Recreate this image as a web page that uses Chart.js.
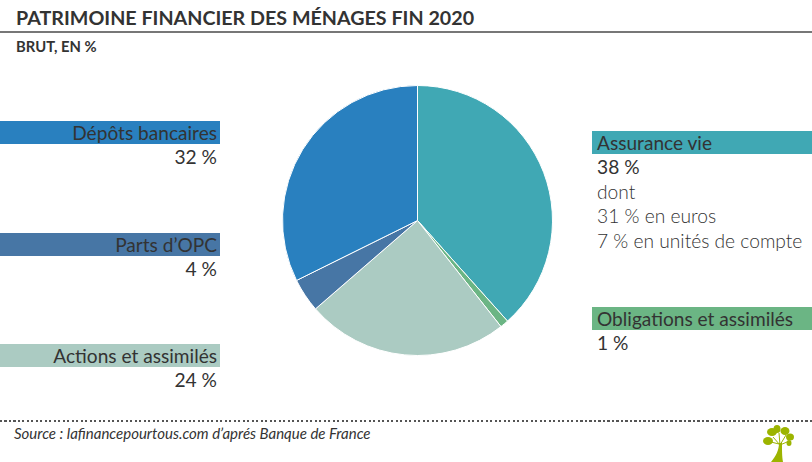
<!DOCTYPE html>
<html lang="fr">
<head>
<meta charset="utf-8">
<title>Patrimoine financier des ménages fin 2020</title>
<script src="https://cdn.jsdelivr.net/npm/chart.js@4"></script>
<style>
html, body { margin: 0; padding: 0; background: #fff; }
body { width: 812px; height: 462px; position: relative; overflow: hidden; font-family: Lato, "Open Sans", sans-serif; color: #333; }
#title { position: absolute; left: 16px; top: 5px; font-size: 19.7px; font-weight: 700; white-space: nowrap; line-height: 26px; }
#rule { position: absolute; left: 0; top: 31px; width: 812px; height: 2px; background: #777; }
#sub { position: absolute; left: 16px; top: 37px; font-size: 14.8px; font-weight: 700; line-height: 18px; }
#pie { position: absolute; left: 280px; top: 83px; width: 275px; height: 275px; }
.bar { position: absolute; width: 220px; height: 23px; line-height: 23px; font-size: 19.1px; white-space: nowrap; box-sizing: border-box; }
.val { position: absolute; width: 220px; font-size: 19.2px; line-height: 24px; white-space: pre; box-sizing: border-box; }
.left { left: 0; text-align: right; padding-right: 3px; }
.right { left: 592px; text-align: left; padding-left: 5px; }
.det { font-weight: 300; }
#dots { position: absolute; left: 0; top: 420px; width: 812px; height: 2px; background: repeating-linear-gradient(90deg, #555 0, #555 2px, transparent 2px, transparent 4.5px); }
#source { position: absolute; left: 14px; top: 424px; font-size: 15px; font-style: italic; white-space: nowrap; line-height: 18px; }
#tree { position: absolute; left: 762px; top: 424px; }
</style>
</head>
<body>
<div id="title">PATRIMOINE FINANCIER DES MÉNAGES FIN 2020</div>
<div id="rule"></div>
<div id="sub">BRUT, EN %</div>
<div id="pie"><canvas id="graficapie" width="275" height="275"></canvas></div>
<div id="dots"></div>
<div id="source">Source : lafinancepourtous.com d’aprés Banque de France</div>
<svg id="tree" width="34" height="38" viewBox="0 0 34 38">
  <path d="M9 38 C14 32 17 26 17 19 L20 19 C20 27 20 32 21 38 Z" fill="#9cb400"/>
  <path d="M18 21 L11 13 M18 21 L17 9 M18 21 L24 11 M18 21 L25 18 M17 20 L9 18" stroke="#9cb400" stroke-width="1" fill="none"/>
  <ellipse cx="10" cy="8" rx="5" ry="4" fill="#9cb400"/>
  <ellipse cx="6" cy="17" rx="5" ry="4" fill="#9cb400"/>
  <ellipse cx="15" cy="5" rx="3.5" ry="4" fill="#9cb400"/>
  <ellipse cx="23" cy="7" rx="4.5" ry="4" fill="#9cb400"/>
  <ellipse cx="28" cy="13" rx="4" ry="3.5" fill="#9cb400"/>
  <ellipse cx="27" cy="19" rx="2.5" ry="3" fill="#9cb400"/>
</svg>
<script>
// sens horaire depuis midi
var categories = ['Assurance vie', 'Obligations et assimilés', 'Actions et assimilés', "Parts d’OPC", 'Dépôts bancaires'];
var valeurs = [38, 1, 24, 4, 32];
var couleurs = ['#40a8b4', '#6bb584', '#abcbc2', '#4776a5', '#2980bf'];
var details = [['dont', '31 % en euros', '7 % en unités de compte'], [], [], [], []];
var cotes = ['right', 'right', 'left', 'left', 'left'];
var hauteurs = [131, 307, 344, 233, 121];

for (var i = 0; i < categories.length; i++) {
    var bar = document.createElement('div');
    bar.className = 'bar ' + cotes[i];
    bar.style.top = hauteurs[i] + 'px';
    bar.style.background = couleurs[i];
    bar.textContent = categories[i];
    document.body.appendChild(bar);

    var val = document.createElement('div');
    val.className = 'val ' + cotes[i];
    val.style.top = (hauteurs[i] + 24) + 'px';
    val.textContent = valeurs[i] + ' %';
    document.body.appendChild(val);

    for (var j = 0; j < details[i].length; j++) {
        var det = document.createElement('div');
        det.className = 'val det ' + cotes[i];
        det.style.top = (hauteurs[i] + 24 + 24.7 * (j + 1)) + 'px';
        det.textContent = details[i][j];
        document.body.appendChild(det);
    }
}

var ctx = document.getElementById('graficapie').getContext('2d');
var chart = new Chart(ctx, {
    type: 'pie',
    data: {
        labels: categories,
        datasets: [{
            data: valeurs,
            backgroundColor: couleurs,
            borderColor: '#ffffff',
            borderWidth: 1
        }]
    },
    options: {
        responsive: false,
        animation: false,
        layout: { padding: 2 },
        plugins: { legend: { display: false }, tooltip: { enabled: false } }
    }
});
</script>
</body>
</html>
